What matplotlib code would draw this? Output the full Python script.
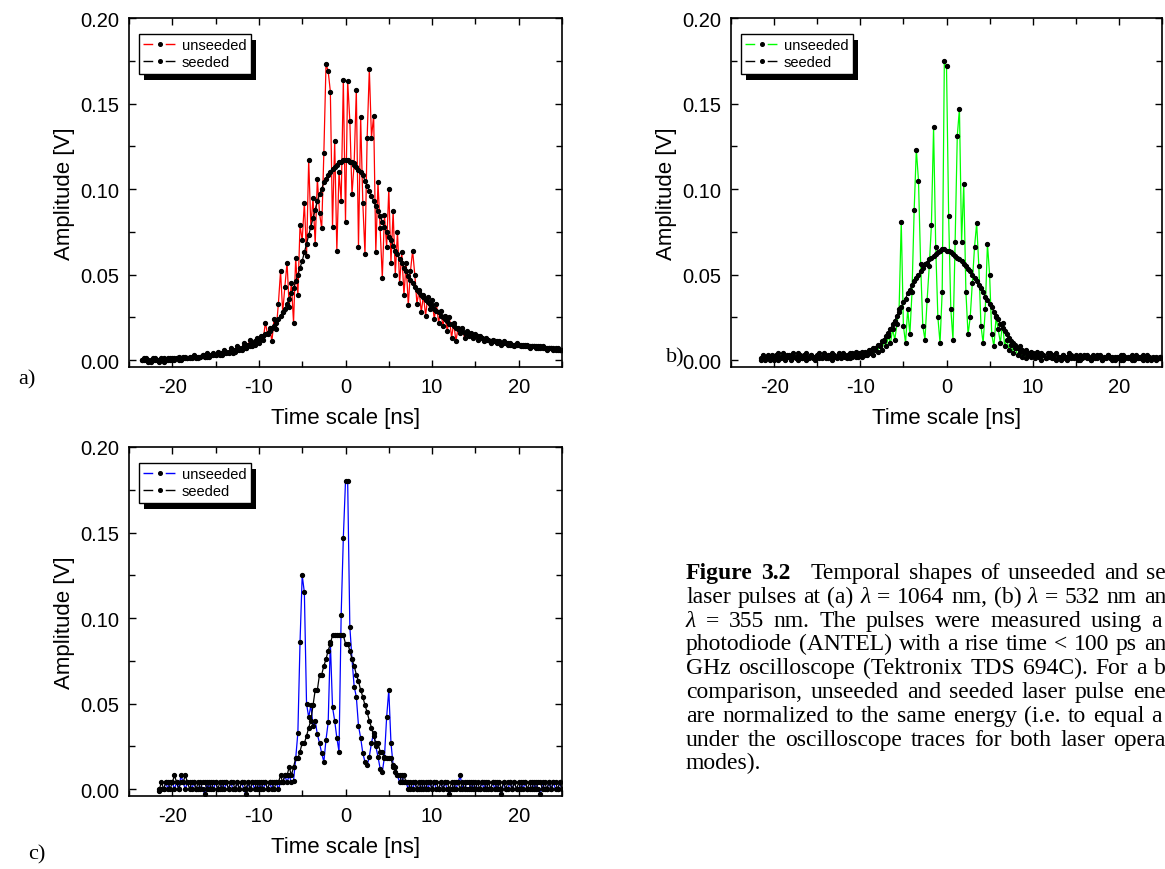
import numpy as np
import matplotlib
matplotlib.use("Agg")
import matplotlib.pyplot as plt
from matplotlib.lines import Line2D
from matplotlib.patches import Rectangle
from matplotlib.transforms import IdentityTransform
from matplotlib.ticker import MultipleLocator, FormatStrFormatter

plt.rcParams['font.family'] = ['Liberation Sans', 'DejaVu Sans']
plt.rcParams['axes.unicode_minus'] = False

# Oscilloscope traces, sample spacing 0.25 ns
dt = 0.25

# (a) 1064 nm, first sample at -23.5 ns
a_t0 = -23.5
a_unseeded = [
    0.000, 0.000, 0.001, 0.000, -0.001, 0.000, 0.001, 0.000, 0.000, 0.001, -0.001, 0.000, 0.001, 0.000,
    0.001, 0.000, 0.001, 0.002, 0.000, 0.001, 0.002, 0.001, 0.001, 0.002, 0.003, 0.001, 0.002, 0.002, 0.003, 0.002, 0.004, 0.002, 0.003, 0.004,
    0.003, 0.005, 0.003, 0.004, 0.006, 0.004, 0.005, 0.007, 0.004, 0.006, 0.008, 0.006, 0.007, 0.010, 0.007, 0.009, 0.012, 0.008, 0.011, 0.013,
    0.010, 0.014, 0.012, 0.022, 0.015, 0.019, 0.011, 0.024, 0.018, 0.033, 0.052, 0.028, 0.043, 0.057, 0.031, 0.045, 0.022, 0.060, 0.038, 0.079,
    0.070, 0.092, 0.061, 0.117, 0.078, 0.095, 0.068, 0.106, 0.086, 0.077, 0.121, 0.173, 0.169, 0.157, 0.078, 0.128, 0.064, 0.110, 0.093, 0.164,
    0.081, 0.163, 0.140, 0.097, 0.115, 0.158, 0.066, 0.142, 0.092, 0.062, 0.130, 0.170, 0.130, 0.143, 0.063, 0.104, 0.077, 0.048, 0.085, 0.066,
    0.100, 0.057, 0.087, 0.050, 0.075, 0.045, 0.063, 0.038, 0.057, 0.032, 0.052, 0.064, 0.050, 0.033, 0.041, 0.028, 0.038, 0.026, 0.037, 0.030,
    0.035, 0.024, 0.033, 0.022, 0.029, 0.020, 0.026, 0.017, 0.025, 0.013, 0.022, 0.011, 0.019, 0.016, 0.019, 0.013, 0.017, 0.014, 0.016, 0.013,
    0.015, 0.012, 0.014, 0.013, 0.011, 0.013, 0.012, 0.010, 0.012, 0.011, 0.010, 0.011, 0.009, 0.011, 0.010, 0.009, 0.010, 0.009, 0.008, 0.010,
    0.009, 0.008, 0.009, 0.008, 0.009, 0.007, 0.008, 0.008, 0.007, 0.008, 0.007, 0.008, 0.007, 0.006, 0.007, 0.007, 0.006, 0.007, 0.006, 0.006, 0.006,
]
a_seeded = [
    0.000, 0.001, 0.000, -0.001, 0.000, 0.001, 0.000, 0.000, -0.001, 0.000, 0.001, 0.000, 0.000, 0.001,
    0.000, 0.001, 0.001, 0.000, 0.001, 0.002, 0.001, 0.001, 0.002, 0.001, 0.002, 0.002, 0.001, 0.002, 0.003, 0.002, 0.002, 0.003, 0.003, 0.003,
    0.003, 0.004, 0.004, 0.003, 0.004, 0.005, 0.004, 0.005, 0.006, 0.005, 0.006, 0.007, 0.006, 0.008, 0.007, 0.009, 0.008, 0.010, 0.009, 0.011,
    0.012, 0.013, 0.014, 0.015, 0.016, 0.017, 0.019, 0.020, 0.022, 0.024, 0.026, 0.028, 0.030, 0.033, 0.036, 0.039, 0.042, 0.046, 0.050, 0.054,
    0.058, 0.063, 0.068, 0.073, 0.078, 0.083, 0.088, 0.093, 0.097, 0.100, 0.104, 0.106, 0.108, 0.110, 0.112, 0.113, 0.114, 0.116, 0.116, 0.117,
    0.117, 0.117, 0.116, 0.116, 0.114, 0.113, 0.111, 0.110, 0.108, 0.105, 0.102, 0.099, 0.096, 0.093, 0.090, 0.087, 0.084, 0.081, 0.078, 0.075,
    0.072, 0.070, 0.067, 0.064, 0.062, 0.059, 0.057, 0.054, 0.052, 0.049, 0.047, 0.045, 0.043, 0.041, 0.040, 0.038, 0.037, 0.035, 0.034, 0.033,
    0.032, 0.030, 0.029, 0.028, 0.026, 0.025, 0.024, 0.023, 0.021, 0.021, 0.020, 0.019, 0.018, 0.018, 0.017, 0.016, 0.016, 0.015, 0.015, 0.014,
    0.014, 0.014, 0.013, 0.013, 0.012, 0.012, 0.012, 0.011, 0.011, 0.011, 0.011, 0.010, 0.010, 0.010, 0.010, 0.010, 0.009, 0.009, 0.009, 0.009,
    0.009, 0.009, 0.008, 0.009, 0.008, 0.008, 0.008, 0.008, 0.008, 0.007, 0.008, 0.007, 0.007, 0.007, 0.007, 0.007, 0.007, 0.006, 0.007, 0.006, 0.006,
]

# (b) 532 nm, first sample at -21.5 ns
b_t0 = -21.5
b_unseeded = [
    0.000, 0.002, 0.001, 0.003, 0.000, 0.002,
    0.001, 0.003, 0.000, 0.002, 0.004, 0.001, 0.002, 0.003, 0.000, 0.002, 0.001, 0.004, 0.002, 0.001, 0.003, 0.000, 0.002, 0.003, 0.001, 0.002,
    0.003, 0.001, 0.002, 0.004, 0.001, 0.003, 0.002, 0.000, 0.003, 0.002, 0.004, 0.001, 0.003, 0.002, 0.001, 0.004, 0.002, 0.003, 0.005, 0.002,
    0.004, 0.002, 0.005, 0.003, 0.004, 0.006, 0.003, 0.007, 0.005, 0.009, 0.006, 0.011, 0.008, 0.014, 0.010, 0.018, 0.012, 0.021, 0.030, 0.081,
    0.020, 0.010, 0.030, 0.015, 0.040, 0.088, 0.123, 0.105, 0.056, 0.020, 0.012, 0.035, 0.055, 0.079, 0.136, 0.066, 0.025, 0.010, 0.040, 0.175,
    0.172, 0.084, 0.030, 0.012, 0.069, 0.131, 0.147, 0.069, 0.103, 0.040, 0.015, 0.025, 0.045, 0.066, 0.080, 0.055, 0.020, 0.010, 0.030, 0.068,
    0.050, 0.015, 0.008, 0.025, 0.018, 0.010, 0.022, 0.008, 0.012, 0.006, 0.009, 0.004, 0.007, 0.003, 0.005, 0.002, 0.004, 0.001, 0.003, 0.002,
    0.003, 0.001, 0.004, 0.002, 0.000, 0.003, 0.001, 0.002, 0.004, 0.001, 0.003, 0.000, 0.002, 0.001, 0.003, 0.002, 0.000, 0.002, 0.003, 0.001,
    0.002, 0.000, 0.003, 0.001, 0.002, 0.003, 0.001, 0.000, 0.002, 0.001, 0.003, 0.002, 0.000, 0.001, 0.002, 0.003, 0.001, 0.002, 0.000, 0.002,
    0.001, 0.003, 0.000, 0.002, 0.001, 0.002, 0.003, 0.000, 0.001, 0.002, 0.001, 0.003, 0.001, 0.000, 0.002, 0.001, 0.002, 0.000, 0.001, 0.002, 0.001,
]
b_seeded = [
    0.001, 0.003, 0.000, 0.002, 0.001, 0.003,
    0.000, 0.002, 0.004, 0.001, 0.002, 0.000, 0.003, 0.002, 0.001, 0.004, 0.002, 0.000, 0.003, 0.001, 0.002, 0.004, 0.001, 0.003, 0.002, 0.000,
    0.002, 0.004, 0.001, 0.003, 0.002, 0.001, 0.003, 0.004, 0.002, 0.001, 0.003, 0.002, 0.004, 0.002, 0.003, 0.001, 0.004, 0.003, 0.002, 0.004,
    0.003, 0.005, 0.003, 0.004, 0.006, 0.004, 0.007, 0.006, 0.009, 0.008, 0.011, 0.012, 0.014, 0.016, 0.018, 0.021, 0.023, 0.026, 0.028, 0.031,
    0.034, 0.036, 0.039, 0.041, 0.044, 0.046, 0.048, 0.050, 0.052, 0.054, 0.056, 0.057, 0.059, 0.060, 0.061, 0.062, 0.063, 0.064, 0.065, 0.065,
    0.064, 0.064, 0.063, 0.062, 0.061, 0.060, 0.059, 0.058, 0.056, 0.055, 0.053, 0.052, 0.050, 0.048, 0.046, 0.044, 0.042, 0.040, 0.037, 0.035,
    0.033, 0.031, 0.028, 0.026, 0.024, 0.021, 0.019, 0.017, 0.015, 0.013, 0.011, 0.010, 0.009, 0.007, 0.008, 0.006, 0.005, 0.006, 0.004, 0.005,
    0.004, 0.003, 0.005, 0.002, 0.004, 0.003, 0.001, 0.004, 0.002, 0.003, 0.001, 0.004, 0.002, 0.000, 0.003, 0.001, 0.002, 0.004, 0.001, 0.002,
    0.003, 0.001, 0.000, 0.002, 0.003, 0.001, 0.002, 0.000, 0.003, 0.002, 0.001, 0.003, 0.000, 0.002, 0.001, 0.003, 0.002, 0.000, 0.002, 0.001,
    0.002, 0.000, 0.003, 0.001, 0.002, 0.001, 0.000, 0.002, 0.003, 0.001, 0.002, 0.000, 0.001, 0.003, 0.002, 0.000, 0.001, 0.002, 0.001, 0.002, 0.001,
]

# (c) 355 nm, first sample at -21.5 ns
c_t0 = -21.5
c_unseeded = [
    -0.001, 0.000, 0.000, 0.004, 0.000, 0.004,
    0.004, 0.000, 0.004, 0.000, 0.008, 0.004, 0.000, 0.004, 0.004, 0.000, 0.004, 0.000, 0.000, 0.004, 0.000, -0.003, 0.004, 0.000, 0.004, 0.000,
    0.004, 0.000, 0.000, 0.004, 0.000, 0.004, 0.000, 0.004, 0.000, 0.000, 0.004, 0.000, 0.004, 0.000, -0.003, 0.004, 0.000, 0.004, 0.000, 0.004,
    0.000, 0.004, 0.000, 0.004, 0.000, 0.004, 0.000, 0.004, 0.004, 0.000, 0.004, 0.004, 0.008, 0.004, 0.008, 0.004, 0.005, 0.018, 0.033, 0.086,
    0.125, 0.115, 0.050, 0.042, 0.049, 0.037, 0.040, 0.032, 0.027, 0.021, 0.016, 0.029, 0.039, 0.086, 0.048, 0.040, 0.030, 0.022, 0.102, 0.147,
    0.180, 0.180, 0.095, 0.076, 0.060, 0.054, 0.037, 0.030, 0.021, 0.016, 0.014, 0.019, 0.027, 0.033, 0.025, 0.019, 0.012, 0.010, 0.019, 0.042,
    0.058, 0.027, 0.014, 0.010, 0.008, 0.004, 0.008, 0.004, 0.004, 0.000, 0.004, 0.000, 0.004, 0.000, 0.000, 0.004, 0.000, 0.004, 0.000, 0.004,
    0.000, 0.004, 0.000, 0.000, 0.004, 0.000, 0.004, 0.000, -0.003, 0.000, 0.004, 0.000, 0.004, 0.008, 0.000, 0.004, 0.000, 0.000, 0.004, 0.000,
    0.004, 0.000, 0.000, 0.004, 0.000, 0.004, 0.000, 0.000, 0.004, 0.000, 0.004, 0.000, -0.003, 0.004, 0.000, 0.000, 0.004, 0.000, 0.004, 0.000,
    0.000, 0.004, 0.000, 0.004, 0.000, 0.000, 0.004, 0.000, 0.004, 0.000, -0.003, 0.004, 0.000, 0.000, 0.004, 0.000, 0.004, 0.000, 0.000, 0.004, 0.000,
]
c_seeded = [
    0.000, 0.004, 0.000, 0.004, 0.004, 0.000,
    0.004, 0.008, 0.004, 0.000, 0.004, 0.004, 0.008, 0.004, 0.000, 0.004, 0.004, 0.000, 0.004, 0.000, 0.004, 0.004, 0.000, 0.004, 0.000, 0.004,
    0.004, 0.000, 0.004, 0.000, 0.004, 0.004, 0.000, 0.004, 0.004, 0.000, 0.004, 0.000, 0.004, 0.004, 0.000, 0.004, 0.000, 0.004, 0.004, 0.000,
    0.004, 0.000, 0.004, 0.004, 0.000, 0.004, 0.004, 0.000, 0.004, 0.004, 0.008, 0.004, 0.008, 0.008, 0.013, 0.008, 0.013, 0.018, 0.018, 0.022,
    0.027, 0.027, 0.031, 0.036, 0.040, 0.049, 0.058, 0.058, 0.067, 0.067, 0.072, 0.076, 0.081, 0.085, 0.090, 0.090, 0.090, 0.090, 0.090, 0.090,
    0.085, 0.085, 0.081, 0.076, 0.072, 0.067, 0.063, 0.058, 0.054, 0.049, 0.045, 0.040, 0.036, 0.031, 0.027, 0.027, 0.022, 0.022, 0.018, 0.018,
    0.018, 0.018, 0.013, 0.013, 0.008, 0.008, 0.004, 0.008, 0.004, 0.004, 0.000, 0.004, 0.004, 0.000, 0.004, 0.000, 0.004, 0.000, 0.004, 0.004,
    0.000, 0.004, 0.004, 0.000, 0.004, 0.000, 0.004, 0.004, 0.000, 0.004, 0.000, 0.004, 0.004, 0.000, 0.004, 0.000, 0.004, 0.004, 0.000, 0.004,
    0.000, 0.004, 0.000, 0.004, 0.004, 0.000, 0.004, 0.000, 0.004, 0.004, 0.000, 0.004, 0.000, 0.004, 0.000, 0.004, 0.004, 0.000, 0.004, 0.000,
    0.004, 0.000, 0.004, 0.004, 0.000, 0.004, 0.000, 0.004, 0.000, 0.004, 0.004, 0.000, 0.004, 0.000, 0.004, 0.000, 0.004, 0.004, 0.000, 0.004, 0.000,
]

series_labels = ["unseeded", "seeded"]
x_ticks = [-20, -10, 0, 10, 20]
y_ticks = [0.00, 0.05, 0.10, 0.15, 0.20]

caption_lines = [
    "Figure 3.2 Temporal shapes of unseeded and se",
    "laser pulses at (a) λ = 1064 nm, (b) λ = 532 nm an",
    "λ = 355 nm. The pulses were measured using a",
    "photodiode (ANTEL) with a rise time < 100 ps an",
    "GHz oscilloscope (Tektronix TDS 694C). For a b",
    "comparison, unseeded and seeded laser pulse ene",
    "are normalized to the same energy (i.e. to equal a",
    "under the oscilloscope traces for both laser opera",
    "modes).",
]

W, H = 1165, 870
fig = plt.figure(figsize=(W / 100, H / 100), dpi=100)


def make_axes(l, t, r, b):
    ax = fig.add_axes([l / W, 1 - b / H, (r - l) / W, (b - t) / H])
    ax.set_xlim(-25, 25)
    ax.set_ylim(-0.004, 0.20)
    ax.set_xticks(x_ticks)
    ax.set_yticks(y_ticks)
    ax.xaxis.set_minor_locator(MultipleLocator(5))
    ax.yaxis.set_minor_locator(MultipleLocator(0.025))
    ax.yaxis.set_major_formatter(FormatStrFormatter('%.2f'))
    ax.tick_params(which='both', direction='in', top=True, right=True,
                   labelsize=14.5, pad=7, width=1)
    ax.tick_params(which='major', length=5)
    ax.tick_params(which='minor', length=4)
    for s in ax.spines.values():
        s.set_linewidth(1.2)
    ax.set_xlabel("Time scale [ns]", fontsize=16, labelpad=8)
    ax.set_ylabel("Amplitude [V]", fontsize=16, labelpad=4)
    return ax


def draw_traces(ax, t0, unseeded, seeded, color):
    tu = t0 + dt * np.arange(len(unseeded))
    ts = t0 + dt * np.arange(len(seeded))
    ax.plot(tu, unseeded, '-', color=color, lw=0.9, marker='o', ms=2.8,
            mfc='k', mec='k', zorder=2)
    ax.plot(ts, seeded, '-', color='k', lw=0.9, marker='o', ms=2.8,
            mfc='k', mec='k', zorder=3)
    handles = [
        Line2D([], [], color=color, lw=1, dashes=(7, 9), marker='o', ms=2.6, mfc='k', mec='k'),
        Line2D([], [], color='k', lw=1, dashes=(7, 9), marker='o', ms=2.6, mfc='k', mec='k'),
    ]
    leg = ax.legend(handles, series_labels, loc='upper left',
                    bbox_to_anchor=(10 / 433, 1 - 16 / 349), borderaxespad=0,
                    fontsize=10.5, handlelength=2.25, handletextpad=0.4,
                    labelspacing=0.2, borderpad=0.3, numpoints=1,
                    fancybox=False, framealpha=1, edgecolor='k')
    leg.get_frame().set_linewidth(1.0)
    return leg


ax_a = make_axes(129, 19, 562, 368)
ax_b = make_axes(731, 19, 1162, 368)
ax_c = make_axes(129, 448, 562, 797)

legs = [
    (ax_a, draw_traces(ax_a, a_t0, a_unseeded, a_seeded, '#ff0000')),
    (ax_b, draw_traces(ax_b, b_t0, b_unseeded, b_seeded, '#00ff00')),
    (ax_c, draw_traces(ax_c, c_t0, c_unseeded, c_seeded, '#0000ff')),
]

# panel letters
for txt, x, y in [("a)", 27, 380), ("b)", 675, 358), ("c)", 37, 855)]:
    fig.text(x / W, 1 - y / H, txt, family='Liberation Serif', fontsize=16,
             ha='center', va='center')

fig.canvas.draw()
renderer = fig.canvas.get_renderer()

# black drop shadow behind each legend box
for ax, leg in legs:
    bb = leg.get_frame().get_window_extent(renderer)
    sh = Rectangle((bb.x0 + 5, bb.y0 - 6), bb.width, bb.height,
                   transform=IdentityTransform(), facecolor='k',
                   edgecolor='none', zorder=leg.get_zorder() - 0.5)
    ax.add_artist(sh)

# justified caption, one text per word
cap_size = 17
cap_x0 = 686
cap_base = 579
cap_step = 23.8
line_right = [1166, 1166, 1162, 1166, 1166, 1166, 1162, 1166, None]


def word_width(word, **kw):
    t = fig.text(0, 0, word, **kw)
    w = t.get_window_extent(renderer).width
    t.remove()
    return w


for k, line in enumerate(caption_lines):
    words = line.split(" ")
    styles = []
    for i, w in enumerate(words):
        kw = dict(family='Liberation Serif', fontsize=cap_size)
        if k == 0 and i < 2:
            kw['weight'] = 'bold'
        if w == "λ":
            kw['style'] = 'italic'
        styles.append(kw)
    widths = [word_width(w, **kw) for w, kw in zip(words, styles)]
    extra = [0.0] * len(words)
    if k == 0:
        extra[2] = 12
    if line_right[k] is None:
        gap = word_width("a b", **styles[0]) - word_width("a", **styles[0]) * 2
    else:
        gap = (line_right[k] - cap_x0 - sum(widths) - sum(extra)) / (len(words) - 1)
    x = cap_x0
    yb = cap_base + cap_step * k
    for w, kw, wd, ex in zip(words, styles, widths, extra):
        x += ex
        fig.text(x / W, 1 - yb / H, w, ha='left', va='baseline', **kw)
        x += wd + gap

fig.savefig("out.png", dpi=100)
